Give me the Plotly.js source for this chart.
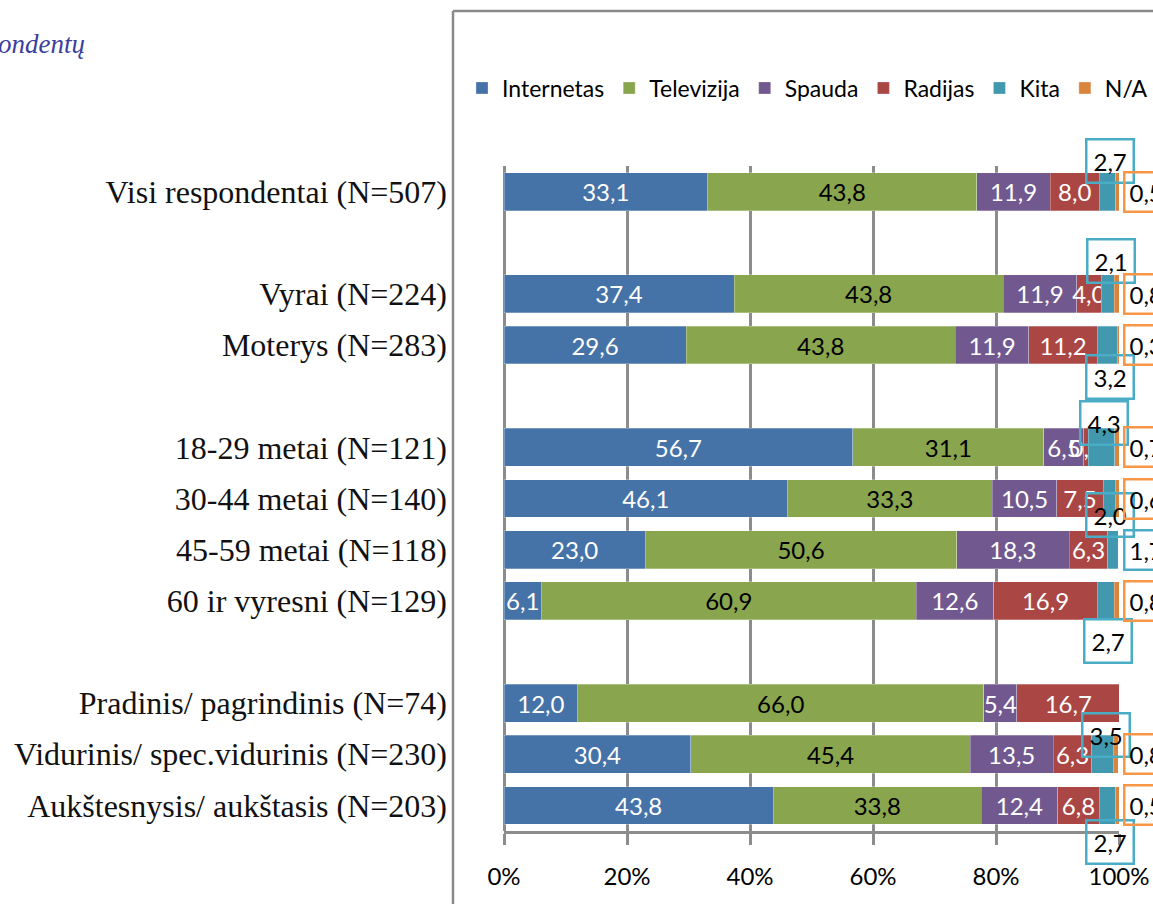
<!DOCTYPE html>
<html>
<head>
<meta charset="utf-8">
<script src="https://cdn.plot.ly/plotly-3.0.1.min.js"></script>
<style>html,body{margin:0;padding:0;background:#fff;} #chart{width:1153px;height:904px;}</style>
</head>
<body>
<div id="chart"></div>
<script>
// ---- data ----
const categories = [
  "Visi respondentai (N=507)",
  "Vyrai (N=224)",
  "Moterys (N=283)",
  "18-29 metai (N=121)",
  "30-44 metai (N=140)",
  "45-59 metai (N=118)",
  "60 ir vyresni (N=129)",
  "Pradinis/ pagrindinis (N=74)",
  "Vidurinis/ spec.vidurinis (N=230)",
  "Aukštesnysis/ aukštasis (N=203)"
];
const groupSizes = [1, 2, 4, 3];
const seriesNames = ["Internetas", "Televizija", "Spauda", "Radijas", "Kita", "N/A"];
const internetas = [33.1, 37.4, 29.6, 56.7, 46.1, 23.0, 6.1, 12.0, 30.4, 43.8];
const televizija = [43.8, 43.8, 43.8, 31.1, 33.3, 50.6, 60.9, 66.0, 45.4, 33.8];
const spauda     = [11.9, 11.9, 11.9, 6.5, 10.5, 18.3, 12.6, 5.4, 13.5, 12.4];
const radijas    = [8.0, 4.0, 11.2, 0.7, 7.5, 6.3, 16.9, 16.7, 6.3, 6.8];
const kita       = [2.7, 2.1, 3.2, 4.3, 2.0, 1.7, 2.7, 0, 3.5, 2.7];
const na         = [0.5, 0.8, 0.3, 0.7, 0.6, 0, 0.8, 0, 0.8, 0.5];
const xTickVals  = [0, 20, 40, 60, 80, 100];
const xTickText  = ["0%", "20%", "40%", "60%", "80%", "100%"];
const cornerText = "ondentų";

// ---- style ----
const colors = ["#4572A7", "#89A54E", "#71588F", "#AA4643", "#4198AF", "#DB843D"];
const textColors = ["#ffffff", "#000000", "#ffffff", "#ffffff", null, null];
const kitaBox = "#4BACC6", naBox = "#F79646";
// per-row placement of the Kita callout: [xshift, yshift] or "right"
const kitaPlace = [[-9, 31], [-8, 33], [-9, -32], [-15, 24], [-9, -16], "right", [-11, -40], null, [-13, 19], [-9, -37]];

const W = 1153, H = 904;
const M = {l: 504, r: 34, t: 166, b: 73};
const PW = W - M.l - M.r, PH = H - M.t - M.b;
const px2x = p => (p - M.l) / PW;
const px2y = p => (H - M.b - p) / PH;

// slot positions with a blank row between groups
const slots = [];
let s = 0;
groupSizes.forEach(n => { for (let i = 0; i < n; i++) slots.push(s++); s++; });
const maxSlot = slots[slots.length - 1];

const fmt = v => v.toFixed(1).replace(".", ",");
const allSeries = [internetas, televizija, spauda, radijas, kita, na];
const sans = "Lato, sans-serif";

const traces = allSeries.map((vals, k) => ({
  type: "bar",
  orientation: "h",
  name: seriesNames[k],
  x: vals,
  y: slots,
  marker: {color: colors[k], line: {color: "rgba(255,255,255,0.35)", width: 0.8}},
  text: textColors[k] ? vals.map(fmt) : undefined,
  textposition: textColors[k] ? "inside" : "none",
  insidetextanchor: "middle",
  constraintext: "none",
  textangle: 0,
  textfont: {family: sans, size: 24, color: textColors[k] || "#000"},
  hoverinfo: "x+name"
}));

const annotations = [];
kita.forEach((v, i) => {
  const p = kitaPlace[i];
  if (!v || !p) return;
  if (p === "right") {
    annotations.push({x: 100, y: slots[i], xref: "x", yref: "y", text: fmt(v), showarrow: false,
      xanchor: "left", yanchor: "middle", xshift: 4, align: "left",
      font: {family: sans, size: 24, color: "#000"},
      bordercolor: kitaBox, borderwidth: 2.5, borderpad: 4});
  } else {
    annotations.push({x: 100, y: slots[i], xref: "x", yref: "y", text: fmt(v), showarrow: false,
      xanchor: "center", yanchor: "middle", xshift: p[0], yshift: p[1],
      font: {family: sans, size: 24, color: "#000"},
      bordercolor: kitaBox, borderwidth: 2.5, borderpad: 6});
  }
});
na.forEach((v, i) => {
  if (!v) return;
  annotations.push({x: 100, y: slots[i], xref: "x", yref: "y", text: fmt(v), showarrow: false,
    xanchor: "left", yanchor: "middle", xshift: 4, align: "left",
    font: {family: sans, size: 24, color: "#000"},
    bordercolor: naBox, borderwidth: 2.5, borderpad: 4});
});
annotations.push({x: px2x(-4), y: px2y(44), xref: "paper", yref: "paper", xanchor: "left", yanchor: "middle",
  text: "<i>" + cornerText + "</i>", showarrow: false,
  font: {family: "Liberation Serif, serif", size: 27, color: "#3d3d9e"}});

const shapes = [
  {type: "line", xref: "paper", yref: "paper", x0: px2x(453), x1: px2x(453), y0: px2y(H + 5), y1: px2y(11),
   line: {color: "#8a8a8a", width: 2.5}},
  {type: "line", xref: "paper", yref: "paper", x0: px2x(453), x1: px2x(W + 5), y0: px2y(11), y1: px2y(11),
   line: {color: "#8a8a8a", width: 2.5}}
];

const layout = {
  width: W, height: H,
  margin: M,
  paper_bgcolor: "#fff", plot_bgcolor: "#fff",
  barmode: "stack",
  bargap: 0.26,
  showlegend: true,
  legend: {orientation: "h", x: px2x(471), xanchor: "left", y: px2y(88), yanchor: "middle",
    font: {family: sans, size: 23, color: "#000"}, traceorder: "normal",
    bgcolor: "rgba(0,0,0,0)", itemclick: false},
  xaxis: {range: [0, 100], tickvals: xTickVals, ticktext: xTickText,
    showgrid: true, gridcolor: "#8c8c8c", gridwidth: 3,
    zeroline: true, zerolinecolor: "#8c8c8c", zerolinewidth: 3,
    showline: true, linecolor: "#8c8c8c", linewidth: 3,
    ticks: "outside", ticklen: 11, tickwidth: 3, tickcolor: "#8c8c8c",
    ticklabelstandoff: 11,
    tickfont: {family: sans, size: 24, color: "#000"}, fixedrange: true},
  yaxis: {range: [maxSlot + 0.5, -0.5], tickvals: slots, ticktext: categories,
    showgrid: false, zeroline: false, showline: false, ticks: "",
    ticklabelstandoff: 56,
    tickfont: {family: "Liberation Serif, serif", size: 32, color: "#111"}, fixedrange: true},
  annotations: annotations,
  shapes: shapes
};

Plotly.newPlot("chart", traces, layout, {displayModeBar: false, staticPlot: true});
</script>
</body>
</html>
